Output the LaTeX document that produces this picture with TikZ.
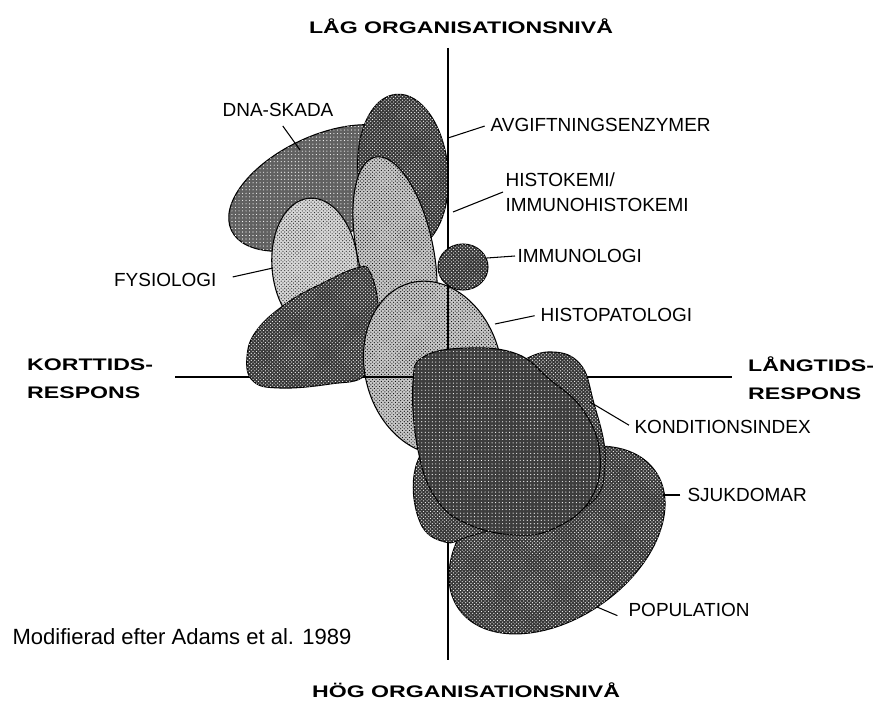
\documentclass[tikz,border=0pt]{standalone}
\usepackage{fontspec}
\setmainfont{Liberation Sans}
\newfontfamily\titlefont{Liberation Sans}[FakeStretch=1.38]
\usetikzlibrary{patterns}
\begin{document}
\begin{tikzpicture}[x=0.03cm,y=-0.03cm,
  blob/.style={draw=black, line width=0.9pt},
  darkdots/.style={blob, fill=black!78, postaction={pattern=crosshatch dots, pattern color=white}},
  lightdots/.style={blob, fill=black!22, postaction={pattern=crosshatch dots, pattern color=black}},
  lightdots2/.style={blob, fill=black!16, postaction={pattern=crosshatch dots, pattern color=black!85}},
  hatch/.style={blob, fill=black!62, postaction={pattern=dots, pattern color=white}},
  hatchdark/.style={blob, fill=black!76, postaction={pattern=dots, pattern color=white}},
  popdots/.style={blob, fill=black!78, postaction={pattern=crosshatch dots, pattern color=white}},
  axis/.style={line width=1.2pt},
  lead/.style={line width=0.9pt},
  lab/.style={font=\fontsize{16.2pt}{21.3pt}\selectfont, inner sep=2pt},
  note/.style={font=\fontsize{18.8pt}{22pt}\selectfont, inner sep=2pt},
  ttl/.style={font=\titlefont\bfseries\fontsize{14.3pt}{24pt}\selectfont, inner sep=0pt, align=left},
]
\useasboundingbox (0,0) rectangle (873,710);

% axis end points
\coordinate (vt) at (448,48);
\coordinate (vb) at (448,660);
\coordinate (hl) at (175,377);
\coordinate (hr) at (732,377);

% back blobs
\path[hatch, rotate around={25:(322,188)}] (322,188) ellipse [x radius=100, y radius=52];
\path[darkdots, rotate around={5:(403,172)}] (403,172) ellipse [x radius=45, y radius=78];
\path[lightdots2, rotate around={5:(315,266)}] (315,266) ellipse [x radius=43, y radius=68];
\path[lightdots, rotate around={12:(395,250)}] (395,250) ellipse [x radius=38, y radius=95];

% axes (first pass)
\draw[axis] (vt) -- (vb);
\draw[axis] (hl) -- (hr);

% dark blob lower left
\path[darkdots] plot[smooth cycle, tension=0.7] coordinates {(247,357) (257,330) (287,303) (323,283) (357,268) (370,272) (378,307) (372,340) (365,375) (330,384) (280,388) (253,381)};

% histopatologi
\path[lightdots, rotate around={15:(433,368)}] (433,368) ellipse [x radius=68, y radius=88];
\begin{scope}
  \clip[rotate around={15:(433,368)}] (433,368) ellipse [x radius=68, y radius=88];
  \draw[axis] (vt) -- (vb);
  \draw[axis] (hl) -- (hr);
\end{scope}

% immunologi
\path[darkdots] (463,267) ellipse [x radius=25, y radius=23];

% lower blobs
\path[popdots, rotate around={35:(557,540)}] (557,540) ellipse [x radius=120, y radius=78];
\path[darkdots] plot[smooth cycle, tension=0.7] coordinates {(480,390) (520,362) (552,352) (580,364) (593,400) (605,460) (588,505) (520,522) (470,536) (445,542) (420,522) (415,470) (440,430)};
\path[hatchdark] plot[smooth cycle, tension=0.7] coordinates {(413,382) (425,356) (470,348) (517,354) (548,378) (583,410) (600,455) (590,500) (555,528) (517,535) (470,525) (437,500) (418,450)};

% titles
\node[ttl] (top) at (461,26) {LÅG ORGANISATIONSNIVÅ};
\node[ttl] (bot) at (466,690) {HÖG ORGANISATIONSNIVÅ};
\node[ttl, anchor=west] (kort) at (27,379) {KORTTIDS-\\RESPONS};
\node[ttl, anchor=west] (lang) at (748,378) {LÅNGTIDS-\\RESPONS};

% labels
\node[lab] (dnaL) at (278,110) {DNA-SKADA};
\node[lab, anchor=west] (avgL) at (488,125) {AVGIFTNINGSENZYMER};
\node[lab, anchor=west, align=left] (hkL) at (503,192) {HISTOKEMI/\\IMMUNOHISTOKEMI};
\node[lab, anchor=west] (imL) at (515,256) {IMMUNOLOGI};
\node[lab, anchor=east] (fyL) at (219,280) {FYSIOLOGI};
\node[lab, anchor=west] (hpL) at (538,315) {HISTOPATOLOGI};
\node[lab, anchor=west] (koL) at (632,427) {KONDITIONSINDEX};
\node[lab, anchor=west] (sjL) at (685,495) {SJUKDOMAR};
\node[lab, anchor=west] (poL) at (626,610) {POPULATION};
\node[note, anchor=west] (src) at (10,637) {Modifierad efter Adams et al. 1989};

% leader lines
\coordinate (dnaP) at (300,150);
\coordinate (avgP) at (448,138);
\coordinate (hkP) at (453,212);
\coordinate (imP) at (487,258);
\coordinate (fyP) at (273,268);
\coordinate (hpP) at (495,324);
\coordinate (koP) at (590,402);
\coordinate (sjP) at (663,495);
\coordinate (poP) at (597,607);
\draw[lead, shorten <=7pt] (dnaL.south) -- (dnaP);
\draw[lead, shorten <=3pt] (avgL.west) -- (avgP);
\draw[lead] (hkL.west) -- (hkP);
\draw[lead] (imL.west) -- (imP);
\draw[lead, shorten <=12pt] (fyL.east) -- (fyP);
\draw[lead, shorten <=3pt] (hpL.west) -- (hpP);
\draw[lead, shorten <=3pt] (koL.west) -- (koP);
\draw[lead, shorten <=4pt] (sjL.west) -- (sjP);
\draw[lead, shorten <=8pt] (poL.south west) -- (poP);
\end{tikzpicture}
\end{document}
